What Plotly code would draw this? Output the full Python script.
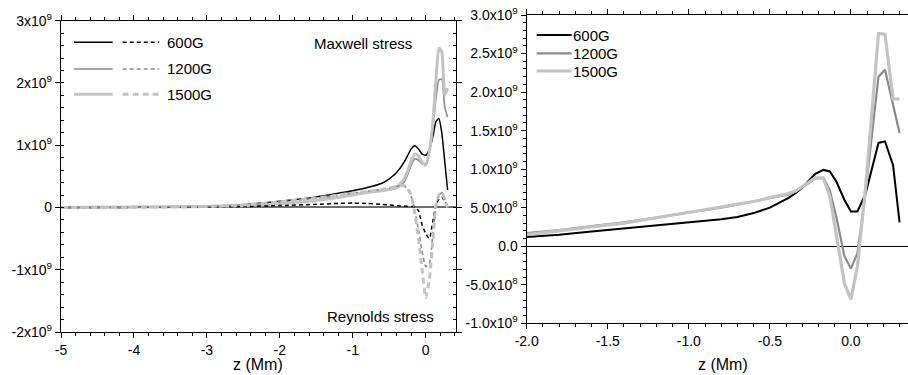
import plotly.graph_objects as go

# ---------------- data (values in units of 1e9) ----------------
series_names = ["600G", "1200G", "1500G"]

z_left = [-5.0, -4.5, -4.0, -3.5, -3.0, -2.5, -2.0, -1.5, -1.2, -1.0, -0.8, -0.6, -0.5, -0.4,
          -0.3, -0.25, -0.2, -0.15, -0.1, -0.05, 0.0, 0.05, 0.1, 0.14, 0.18, 0.22, 0.26, 0.3]

maxwell_600 = [0.0, 0.004, 0.008, 0.012, 0.02, 0.045, 0.1, 0.17, 0.23, 0.27, 0.32, 0.39, 0.46, 0.56,
               0.72, 0.83, 0.94, 0.99, 0.94, 0.86, 0.84, 0.93, 1.15, 1.38, 1.43, 1.2, 0.75, 0.28]
maxwell_1200 = [0.0, 0.003, 0.006, 0.01, 0.017, 0.035, 0.07, 0.12, 0.17, 0.2, 0.24, 0.27, 0.28, 0.31,
                0.4, 0.52, 0.68, 0.78, 0.76, 0.7, 0.7, 0.88, 1.3, 1.75, 2.05, 2.06, 1.62, 1.45]
maxwell_1500 = [0.0, 0.003, 0.006, 0.01, 0.016, 0.03, 0.06, 0.11, 0.16, 0.2, 0.24, 0.27, 0.29, 0.32,
                0.45, 0.58, 0.75, 0.86, 0.83, 0.73, 0.68, 0.9, 1.4, 2.05, 2.56, 2.5, 1.8, 1.92]

reynolds_600 = [0.0, 0.0, 0.002, 0.004, 0.008, 0.015, 0.03, 0.05, 0.065, 0.07, 0.065, 0.05, 0.04, 0.03,
                0.02, 0.02, 0.015, 0.01, -0.05, -0.28, -0.42, -0.5, -0.2, 0.05, 0.13, 0.17, 0.1, 0.02]
reynolds_1200 = [0.0, 0.003, 0.006, 0.01, 0.018, 0.04, 0.09, 0.15, 0.2, 0.23, 0.26, 0.29, 0.31, 0.34,
                 0.35, 0.3, 0.18, -0.05, -0.35, -0.7, -0.95, -0.9, -0.4, 0.0, 0.18, 0.24, 0.15, 0.0]
reynolds_1500 = [0.0, 0.003, 0.006, 0.01, 0.018, 0.04, 0.09, 0.15, 0.2, 0.23, 0.26, 0.29, 0.31, 0.34,
                 0.35, 0.31, 0.2, -0.1, -0.5, -1.0, -1.45, -1.15, -0.5, 0.05, 0.2, 0.25, 0.12, 0.0]

z_right = [-2.0, -1.8, -1.6, -1.4, -1.2, -1.0, -0.8, -0.7, -0.6, -0.5, -0.43, -0.39, -0.34, -0.30,
           -0.26, -0.22, -0.17, -0.13, -0.09, -0.04, 0.0, 0.04, 0.09, 0.13, 0.17, 0.21, 0.26, 0.30]

total_600 = [0.12, 0.15, 0.19, 0.23, 0.27, 0.31, 0.35, 0.38, 0.43, 0.50, 0.57, 0.62, 0.69, 0.76,
             0.85, 0.94, 0.99, 0.97, 0.84, 0.6, 0.45, 0.45, 0.68, 1.0, 1.34, 1.36, 1.05, 0.31]
total_1200 = [0.17, 0.21, 0.26, 0.31, 0.37, 0.44, 0.5, 0.54, 0.58, 0.62, 0.65, 0.67, 0.71, 0.76,
              0.82, 0.88, 0.89, 0.72, 0.38, -0.13, -0.29, -0.09, 0.7, 1.45, 2.2, 2.29, 1.81, 1.47]
total_1500 = [0.15, 0.2, 0.25, 0.3, 0.37, 0.44, 0.51, 0.54, 0.58, 0.63, 0.66, 0.68, 0.72, 0.77,
              0.83, 0.89, 0.88, 0.65, 0.17, -0.48, -0.69, -0.26, 0.75, 1.8, 2.76, 2.75, 1.91, 1.91]

left_x_ticks = [-5, -4, -3, -2, -1, 0]
left_x_labels = ["-5", "-4", "-3", "-2", "-1", "0"]
left_y_ticks = [-2e9, -1e9, 0, 1e9, 2e9, 3e9]
left_y_labels = ["-2x10<sup>9</sup>", "-1x10<sup>9</sup>", "0", "1x10<sup>9</sup>",
                 "2x10<sup>9</sup>", "3x10<sup>9</sup>"]
right_x_ticks = [-2.0, -1.5, -1.0, -0.5, 0.0]
right_x_labels = ["-2.0", "-1.5", "-1.0", "-0.5", "0.0"]
right_y_ticks = [-1e9, -0.5e9, 0, 0.5e9, 1e9, 1.5e9, 2e9, 2.5e9, 3e9]
right_y_labels = ["-1.0x10<sup>9</sup>", "-5.0x10<sup>8</sup>", "0.0", "5.0x10<sup>8</sup>",
                  "1.0x10<sup>9</sup>", "1.5x10<sup>9</sup>", "2.0x10<sup>9</sup>",
                  "2.5x10<sup>9</sup>", "3.0x10<sup>9</sup>"]

# ---------------- styles ----------------
W, H = 908, 375
FONT = "Arial, Liberation Sans, sans-serif"
colors = ["#000000", "#8a8a8a", "#c3c3c3"]
left_widths = [1.5, 1.6, 3.0]
right_widths = [2.0, 2.2, 3.2]
dashes = ["4px,3px", "4px,3px", "6px,4px"]

def s(v):
    return [a * 1e9 for a in v]

fig = go.Figure()
maxwell = [maxwell_600, maxwell_1200, maxwell_1500]
reynolds = [reynolds_600, reynolds_1200, reynolds_1500]
totals = [total_600, total_1200, total_1500]

for i in range(3):
    fig.add_trace(go.Scatter(x=z_left, y=s(maxwell[i]), mode="lines", xaxis="x", yaxis="y",
                             line=dict(color=colors[i], width=left_widths[i], shape="spline", smoothing=0.5),
                             showlegend=False, name=series_names[i]))
for i in range(3):
    fig.add_trace(go.Scatter(x=z_left, y=s(reynolds[i]), mode="lines", xaxis="x", yaxis="y",
                             line=dict(color=colors[i], width=left_widths[i], dash=dashes[i],
                                       shape="spline", smoothing=0.5),
                             showlegend=False, name=series_names[i]))
for i in range(3):
    fig.add_trace(go.Scatter(x=z_right, y=s(totals[i]), mode="lines", xaxis="x2", yaxis="y2",
                             line=dict(color=colors[i], width=right_widths[i]),
                             showlegend=False, name=series_names[i]))

# panel geometry (pixels -> paper)
def px(x):
    return x / W

def py(y):
    return 1 - y / H

L_x0, L_x1, L_y0, L_y1 = 61, 456, 20.7, 332
R_x0, R_x1, R_y0, R_y1 = 526.7, 908, 15, 323.3

axis_common = dict(showline=True, linecolor="black", linewidth=1.3, showgrid=False,
                   tickfont=dict(family=FONT, size=14, color="black"), tickcolor="black",
                   tickmode="array", automargin=False)

fig.update_layout(
    width=W, height=H, margin=dict(l=0, r=0, t=0, b=0),
    paper_bgcolor="white", plot_bgcolor="white", showlegend=False,
    font=dict(family=FONT, color="black"),
    xaxis=dict(domain=[px(L_x0), px(L_x1)], range=[-5, 0.415], anchor="y",
               tickvals=left_x_ticks, ticktext=left_x_labels, ticks="outside", ticklen=5,
               mirror="ticks", zeroline=False,
               minor=dict(ticks="outside", dtick=0.2, ticklen=3, tickcolor="black"),
               **axis_common),
    yaxis=dict(domain=[py(L_y1), py(L_y0)], range=[-2e9, 3e9], anchor="x",
               tickvals=left_y_ticks, ticktext=left_y_labels, ticks="outside", ticklen=5,
               mirror="ticks", zeroline=True, zerolinecolor="#6e6e6e", zerolinewidth=1.6,
               minor=dict(ticks="inside", dtick=0.2e9, ticklen=3, tickcolor="black"),
               **axis_common),
    xaxis2=dict(domain=[px(R_x0), px(R_x1)], range=[-2.0, 0.352], anchor="y2",
                tickvals=right_x_ticks, ticktext=right_x_labels, ticks="outside", ticklen=5,
                mirror="ticks", zeroline=False,
                minor=dict(ticks="outside", dtick=0.1, ticklen=3, tickcolor="black"),
                **axis_common),
    yaxis2=dict(domain=[py(R_y1), py(R_y0)], range=[-1e9, 3e9], anchor="x2",
                tickvals=right_y_ticks, ticktext=right_y_labels, ticks="outside", ticklen=5,
                zeroline=True, zerolinecolor="black", zerolinewidth=1.2,
                minor=dict(ticks="outside", dtick=0.1e9, ticklen=3, tickcolor="black"),
                **axis_common),
)

# ---------------- text annotations ----------------
ann = [
    dict(text="Maxwell stress", x=px(363), y=py(43.7), size=15),
    dict(text="Reynolds stress", x=px(380), y=py(316), size=15),
    dict(text="z (Mm)", x=px(257.5), y=py(364), size=16),
    dict(text="z (Mm)", x=px(722.5), y=py(364), size=16),
]
for a in ann:
    fig.add_annotation(text=a["text"], x=a["x"], y=a["y"], xref="paper", yref="paper",
                       showarrow=False, xanchor="center", yanchor="middle",
                       font=dict(family=FONT, size=a["size"], color="black"))

# ---------------- custom legends ----------------
left_rows = [42.3, 69, 94.3]
right_rows = [35, 53.3, 71]
for i in range(3):
    y = left_rows[i]
    fig.add_shape(type="line", xref="paper", yref="paper", x0=px(74), x1=px(112.7),
                  y0=py(y), y1=py(y), line=dict(color=colors[i], width=left_widths[i]))
    fig.add_shape(type="line", xref="paper", yref="paper", x0=px(122.7), x1=px(159.3),
                  y0=py(y), y1=py(y), line=dict(color=colors[i], width=left_widths[i], dash=dashes[i]))
    fig.add_annotation(text=series_names[i], x=px(165), y=py(y), xref="paper", yref="paper",
                       showarrow=False, xanchor="left", yanchor="middle",
                       font=dict(family=FONT, size=15, color="black"))
    y = right_rows[i]
    fig.add_shape(type="line", xref="paper", yref="paper", x0=px(536.7), x1=px(571.7),
                  y0=py(y), y1=py(y), line=dict(color=colors[i], width=right_widths[i]))
    fig.add_annotation(text=series_names[i], x=px(571), y=py(y), xref="paper", yref="paper",
                       showarrow=False, xanchor="left", yanchor="middle",
                       font=dict(family=FONT, size=15, color="black"))

fig.write_html(
    "out.html",
    config={"displayModeBar": False},
    post_script="document.body.style.margin='0px';document.body.style.padding='0px';"
                "document.body.style.overflow='hidden';",
)
